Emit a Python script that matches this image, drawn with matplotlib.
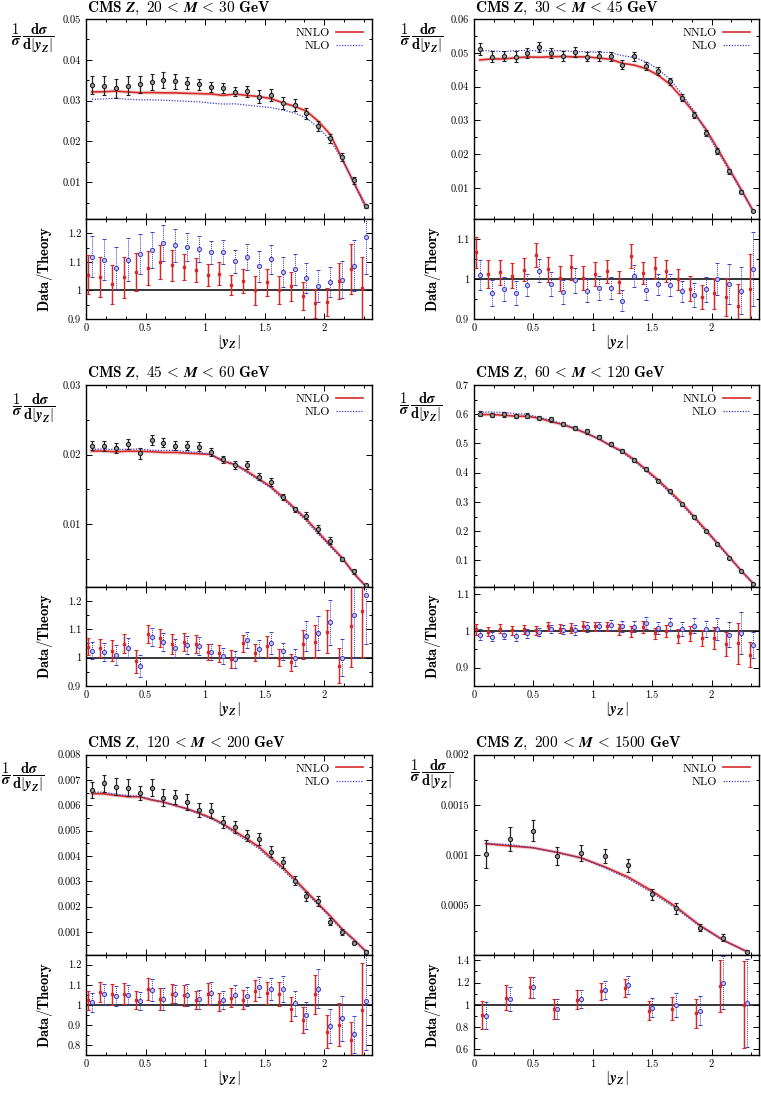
import numpy as np
import matplotlib
matplotlib.use("Agg")
import matplotlib.pyplot as plt
from matplotlib.ticker import MultipleLocator, AutoMinorLocator, FuncFormatter

plt.rcParams['font.family'] = 'serif'
plt.rcParams['font.serif'] = ['cmr10']
plt.rcParams['mathtext.fontset'] = 'cm'
plt.rcParams['axes.formatter.use_mathtext'] = True

RED = '#d62a2a'
BLUE = '#3c3cc8'

# bin centres in |y_Z|
yz = [0.05, 0.15, 0.25, 0.35, 0.45, 0.55, 0.65, 0.75, 0.85, 0.95, 1.05, 1.15,
      1.25, 1.35, 1.45, 1.55, 1.65, 1.75, 1.85, 1.95, 2.05, 2.15, 2.25, 2.35]
yz_wide = [0.1, 0.3, 0.5, 0.7, 0.9, 1.1, 1.3, 1.5, 1.7, 1.9, 2.1, 2.3]

# 20 < M < 30
data_20 = [0.0339, 0.0337, 0.0330, 0.0336, 0.0340, 0.0345, 0.0351, 0.0347, 0.0344, 0.0340, 0.0333, 0.0331,
           0.0322, 0.0323, 0.0310, 0.0314, 0.0295, 0.0290, 0.0269, 0.0238, 0.0208, 0.0162, 0.0105, 0.0041]
err_20 = [0.065, 0.066, 0.068, 0.069, 0.062, 0.056, 0.055, 0.050, 0.043, 0.039, 0.036, 0.038,
          0.036, 0.041, 0.050, 0.046, 0.049, 0.050, 0.051, 0.054, 0.051, 0.062, 0.082, 0.110]
rnnlo_20 = [1.055, 1.047, 1.021, 1.046, 1.064, 1.079, 1.100, 1.088, 1.082, 1.072, 1.053, 1.058,
            1.019, 1.032, 1.000, 1.029, 1.000, 1.014, 0.981, 0.955, 0.958, 1.033, 1.075, 1.007]
rnlo_20 = [1.118, 1.108, 1.078, 1.108, 1.126, 1.142, 1.166, 1.158, 1.153, 1.145, 1.133, 1.135,
           1.102, 1.118, 1.084, 1.109, 1.065, 1.074, 1.044, 1.016, 1.028, 1.038, 1.086, 1.188]

# 30 < M < 45
data_30 = [0.0511, 0.0488, 0.0490, 0.0489, 0.0499, 0.0516, 0.0500, 0.0490, 0.0502, 0.0489, 0.0490, 0.0490,
           0.0465, 0.0490, 0.0460, 0.0446, 0.0415, 0.0367, 0.0316, 0.0263, 0.0209, 0.0149, 0.0089, 0.0032]
err_30 = [0.036, 0.034, 0.031, 0.031, 0.028, 0.028, 0.030, 0.031, 0.031, 0.030, 0.030, 0.028,
          0.028, 0.028, 0.027, 0.027, 0.027, 0.027, 0.031, 0.032, 0.040, 0.050, 0.060, 0.090]
rnnlo_30 = [1.067, 1.013, 1.017, 1.008, 1.023, 1.060, 1.024, 1.002, 1.029, 1.002, 1.012, 1.019,
            0.992, 1.057, 1.016, 1.028, 1.020, 0.999, 0.976, 0.955, 0.964, 0.955, 0.932, 0.975]
rnlo_30 = [1.010, 0.965, 0.974, 0.966, 0.984, 1.021, 0.987, 0.968, 0.997, 0.971, 0.978, 0.978,
           0.946, 1.008, 0.973, 0.987, 0.985, 0.969, 0.960, 0.974, 1.000, 0.987, 0.971, 1.026]

# 45 < M < 60
data_45 = [0.0213, 0.0212, 0.0209, 0.0215, 0.0202, 0.0221, 0.0217, 0.0213, 0.0213, 0.0211, 0.0204, 0.0193,
           0.0185, 0.0185, 0.0168, 0.0160, 0.0139, 0.0121, 0.0112, 0.0093, 0.0076, 0.0050, 0.0032, 0.0012]
err_45 = [0.029, 0.032, 0.035, 0.032, 0.040, 0.030, 0.030, 0.033, 0.030, 0.031, 0.029, 0.029,
          0.031, 0.028, 0.031, 0.036, 0.030, 0.030, 0.048, 0.055, 0.070, 0.065, 0.130, 0.140]
rnnlo_45 = [1.039, 1.034, 1.025, 1.049, 0.987, 1.083, 1.069, 1.049, 1.055, 1.049, 1.020, 1.015,
            0.996, 1.050, 1.018, 1.040, 1.000, 0.984, 1.047, 1.056, 1.091, 0.972, 1.111, 1.164]
rnlo_45 = [1.025, 1.020, 1.009, 1.035, 0.971, 1.072, 1.054, 1.033, 1.045, 1.040, 1.020, 1.006,
           0.994, 1.062, 1.030, 1.052, 1.022, 1.000, 1.076, 1.087, 1.124, 1.000, 1.149, 1.220]

# 60 < M < 120
data_60 = [0.601, 0.598, 0.600, 0.594, 0.595, 0.587, 0.582, 0.568, 0.554, 0.541, 0.522, 0.499,
           0.475, 0.444, 0.414, 0.373, 0.336, 0.292, 0.249, 0.201, 0.156, 0.108, 0.063, 0.020]
err_60 = [0.014, 0.013, 0.013, 0.013, 0.013, 0.012, 0.012, 0.012, 0.013, 0.013, 0.012, 0.013,
          0.015, 0.015, 0.016, 0.016, 0.017, 0.018, 0.020, 0.022, 0.031, 0.034, 0.057, 0.037]
rnnlo_60 = [1.004, 0.998, 1.006, 1.001, 1.004, 1.001, 1.013, 1.006, 1.007, 1.013, 1.012, 1.012,
            1.004, 0.999, 1.010, 0.993, 0.999, 0.986, 0.993, 0.980, 0.981, 0.964, 0.966, 0.935]
rnlo_60 = [0.990, 0.984, 0.990, 0.986, 0.993, 0.997, 1.005, 1.003, 1.003, 1.011, 1.013, 1.015,
           1.012, 1.011, 1.021, 1.007, 1.018, 1.005, 1.014, 1.005, 1.005, 0.990, 0.995, 0.961]

# 120 < M < 200
data_120 = [0.00660, 0.00686, 0.00672, 0.00669, 0.00647, 0.00669, 0.00630, 0.00632, 0.00613, 0.00582,
            0.00579, 0.00533, 0.00514, 0.00479, 0.00467, 0.00416, 0.00374, 0.00302, 0.00240, 0.00222,
            0.00141, 0.00100, 0.00057, 0.00022]
err_120 = [0.046, 0.049, 0.050, 0.049, 0.044, 0.050, 0.052, 0.044, 0.050, 0.046, 0.052, 0.044,
           0.046, 0.046, 0.048, 0.052, 0.059, 0.061, 0.072, 0.091, 0.096, 0.120, 0.108, 0.240]
rnnlo_120 = [1.022, 1.064, 1.052, 1.056, 1.022, 1.078, 1.029, 1.056, 1.047, 1.024, 1.052, 1.013,
             1.035, 1.025, 1.071, 1.057, 1.054, 0.980, 0.924, 1.052, 0.867, 0.901, 0.826, 0.975]
rnlo_120 = [1.013, 1.054, 1.044, 1.049, 1.019, 1.074, 1.029, 1.054, 1.049, 1.029, 1.059, 1.022,
            1.051, 1.042, 1.089, 1.078, 1.078, 1.007, 0.948, 1.081, 0.894, 0.933, 0.853, 1.019]

# 200 < M < 1500
data_200 = [0.00101, 0.00116, 0.00124, 0.00099, 0.00102, 0.00099, 0.00090, 0.00061, 0.00047, 0.00028,
            0.00018, 0.00004]
err_200 = [0.136, 0.105, 0.084, 0.094, 0.078, 0.070, 0.071, 0.090, 0.109, 0.140, 0.200, 0.390]
rnnlo_200 = [0.907, 1.063, 1.156, 0.964, 1.048, 1.120, 1.153, 0.949, 0.967, 0.925, 1.165, 1.000]
rnlo_200 = [0.904, 1.051, 1.156, 0.964, 1.051, 1.132, 1.177, 0.976, 1.000, 0.949, 1.198, 1.018]

titles = ["20", "30"], ["30", "45"], ["45", "60"], ["60", "120"], ["120", "200"], ["200", "1500"]

YLAB = (r"$\dfrac{\mathbf{1}}{\boldsymbol{\sigma}}\,"
        r"\dfrac{\mathbf{d}\boldsymbol{\sigma}}{\mathbf{d}|\boldsymbol{y}_{\boldsymbol{Z}}|}$")


def fmt(v, pos):
    s = f"{v:.4f}".rstrip('0').rstrip('.')
    return s


def style_axis(ax):
    ax.set_xlim(0, 2.4)
    ax.xaxis.set_major_locator(MultipleLocator(0.5))
    ax.xaxis.set_minor_locator(AutoMinorLocator(3))
    ax.yaxis.set_minor_locator(AutoMinorLocator(2))
    ax.tick_params(which='both', direction='in', top=True, right=True, labelsize=7.5, width=0.7)
    ax.tick_params(which='major', length=4)
    ax.tick_params(which='minor', length=2)
    ax.xaxis.set_major_formatter(FuncFormatter(fmt))
    ax.yaxis.set_major_formatter(FuncFormatter(fmt))
    for s in ax.spines.values():
        s.set_linewidth(1.0)


def draw(ax, axr, x, data, err, rn, rl, mlo, mhi, ylim, ystep, rlim, rstep, ylab_pos):
    x = np.array(x)
    data = np.array(data)
    err = np.array(err)
    rn = np.array(rn)
    rl = np.array(rl)
    nnlo = data / rn
    nlo = data / rl

    l1, = ax.plot(x, nnlo, color=RED, lw=1.2, zorder=3)
    ax.plot(x, nnlo, color=RED, lw=2.8, alpha=0.2, zorder=2)
    l2, = ax.plot(x, nlo, color=BLUE, lw=0.9, ls=(0, (1, 1.2)), zorder=3)
    ax.errorbar(x, data, yerr=data * err, fmt='o', ms=3.0, mfc='#999999', mec='#222222', mew=0.8,
                ecolor='#222222', elinewidth=0.9, capsize=1.6, capthick=0.9, zorder=5)
    ax.legend([l1, l2], ['NNLO', 'NLO'], loc='upper right', frameon=False, markerfirst=False,
              fontsize=8.5, handlelength=2.3, handletextpad=0.5, labelspacing=0.25, borderaxespad=0.35)
    ax.set_ylim(*ylim)
    ax.yaxis.set_major_locator(MultipleLocator(ystep))
    style_axis(ax)
    ax.tick_params(labelbottom=False)
    title = (r"$\mathbf{CMS}\ \boldsymbol{Z}\mathbf{,\ " + mlo + r"}\,<\,\boldsymbol{M}\,<\,\mathbf{"
             + mhi + r"\ GeV}$")
    ax.text(0.005, 1.055, title, transform=ax.transAxes, ha='left', va='center', fontsize=11)
    ax.text(ylab_pos[0], ylab_pos[1], YLAB, transform=ax.transAxes, ha='center', va='center', fontsize=10.5)

    axr.axhline(1.0, color='black', lw=1.1, zorder=1)
    xr = x - 0.03
    axr.vlines(xr, rn * (1 - err), rn * (1 + err), color=RED, lw=2.2, alpha=0.2, zorder=2)
    axr.errorbar(xr, rn, yerr=rn * err, fmt='s', ms=2.0, color=RED, mec=RED, elinewidth=0.8,
                 capsize=1.6, capthick=0.8, zorder=4)
    eb = axr.errorbar(x, rl, yerr=rl * err, fmt='o', ms=3.0, mfc='#c4c4f4', mec=BLUE, mew=0.7,
                      ecolor=BLUE, elinewidth=0.7, capsize=1.6, capthick=0.5, zorder=3)
    eb[2][0].set_linestyle((0, (1, 1)))
    axr.set_ylim(*rlim)
    axr.yaxis.set_major_locator(MultipleLocator(rstep))
    style_axis(axr)
    axr.text(-0.145, 0.5, r"$\mathbf{Data/Theory}$", transform=axr.transAxes, rotation=90,
             ha='center', va='center', fontsize=10.5)
    axr.text(0.5, -0.23, r"$|\boldsymbol{y}_{\boldsymbol{Z}}|$", transform=axr.transAxes,
             ha='center', va='center', fontsize=11)


fig = plt.figure(figsize=(7.61, 10.95), dpi=100)
W, H = 761.0, 1095.0
cols = [(86, 372), (474, 759)]
rows = [(19, 219, 319), (385, 586.7, 686), (754.5, 954.7, 1055)]


def make_axes(c, r):
    x0, x1 = cols[c]
    t, m, b = rows[r]
    ax = fig.add_axes([x0 / W, 1 - m / H, (x1 - x0) / W, (m - t) / H])
    axr = fig.add_axes([x0 / W, 1 - b / H, (x1 - x0) / W, (b - m) / H])
    return ax, axr


panels = [
    (0, 0, yz, data_20, err_20, rnnlo_20, rnlo_20, (0.001, 0.05), 0.01, (0.9, 1.25), 0.1, (-0.185, 0.905)),
    (1, 0, yz, data_30, err_30, rnnlo_30, rnlo_30, (0.0008, 0.06), 0.01, (0.9, 1.15), 0.1, (-0.184, 0.905)),
    (0, 1, yz, data_45, err_45, rnnlo_45, rnlo_45, (0.001, 0.03), 0.01, (0.9, 1.25), 0.1, (-0.183, 0.886)),
    (1, 1, yz, data_60, err_60, rnnlo_60, rnlo_60, (0.01, 0.7), 0.1, (0.85, 1.12), 0.1, (-0.185, 0.892)),
    (0, 2, yz, data_120, err_120, rnnlo_120, rnlo_120, (0.0001, 0.008), 0.001, (0.75, 1.25), 0.1, (-0.219, 0.887)),
    (1, 2, yz_wide, data_200, err_200, rnnlo_200, rnlo_200, (0.00001, 0.002), 0.0005, (0.55, 1.45), 0.2, (-0.147, 0.90)),
]

for (c, r, x, d, e, rn, rl, yl, ys, rlim, rs, yp), (mlo, mhi) in zip(panels, titles):
    ax, axr = make_axes(c, r)
    draw(ax, axr, x, d, e, rn, rl, mlo, mhi, yl, ys, rlim, rs, yp)

fig.savefig("out.png", dpi=100)
